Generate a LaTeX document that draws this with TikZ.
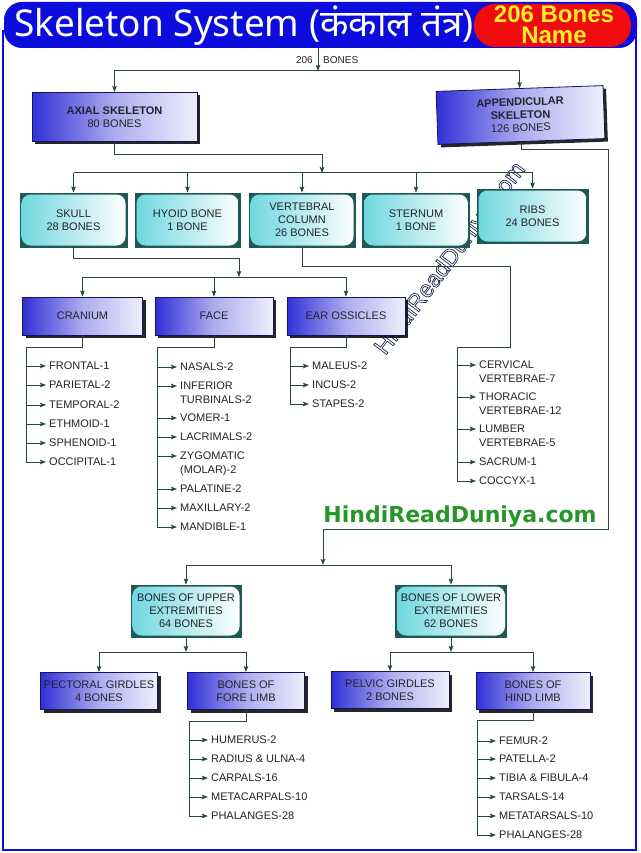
\documentclass[tikz,border=0pt]{standalone}
\usepackage{fontspec}
\setmainfont{Liberation Sans}
\newfontfamily\titlefont[Script=Devanagari]{Noto Sans}
\newfontfamily\greenfont{DejaVu Sans}
\usetikzlibrary{arrows.meta,shadows}
\definecolor{hdrblue}{RGB}{12,12,220}
\definecolor{hdrred}{RGB}{240,12,12}
\definecolor{hdryellow}{RGB}{255,236,40}
\definecolor{lnc}{RGB}{40,72,60}
\definecolor{gblue}{RGB}{48,48,215}
\definecolor{gborder}{RGB}{20,20,90}
\definecolor{cyanc}{RGB}{110,215,222}
\definecolor{tealc}{RGB}{32,88,88}
\definecolor{txt}{RGB}{35,35,45}
\definecolor{wgreen}{RGB}{38,150,40}
\definecolor{wmark}{RGB}{30,40,80}
\tikzset{
  conn/.style={draw=lnc, line width=1pt},
  arr/.style={conn, -{Stealth[length=6pt,width=4.5pt,inset=1pt]}},
  gbox/.style={draw=gborder, line width=0.8pt, left color=gblue, right color=white!92!gblue,
    middle color=gblue!40!white, text=txt, align=center, inner sep=0pt,
    font=\fontsize{11}{13}\selectfont,
    drop shadow={shadow xshift=3pt, shadow yshift=-3pt, fill=black, opacity=0.85}},
  cbox/.style={draw=tealc, line width=0.8pt, fill=tealc, text=txt, align=center, inner sep=0pt,
    font=\fontsize{11}{13}\selectfont,
    path picture={\shade[left color=cyanc, right color=white, rounded corners=9pt]
      ([xshift=1.5pt,yshift=1.5pt]path picture bounding box.south west) rectangle
      ([xshift=-1.5pt,yshift=-1.5pt]path picture bounding box.north east);}},
  item/.style={anchor=west, inner xsep=3pt, inner ysep=0pt, text=txt, align=left,
    font=\fontsize{11}{14}\selectfont},
  item2/.style={item, anchor=north west}
}
\begin{document}
\begin{tikzpicture}[x=1pt,y=-1pt]
\useasboundingbox (0,0) rectangle (640,853);
\fill[white] (0,0) rectangle (640,853);
% frame and header
\draw[hdrblue, line width=2.6pt] (3,30) -- (3,850) -- (636,850) -- (636,30);
\fill[hdrblue, rounded corners=18pt] (4,2) rectangle (637,48);
\fill[hdrred, rounded corners=21pt] (474,4) rectangle (631,47);
\node[text=white, anchor=base west, inner sep=0pt, font=\titlefont\fontsize{37}{40}\selectfont] (title) at (14,37) {Skeleton System (कंकाल तंत्र)};
\node[text=hdryellow, align=center, inner sep=0pt, font=\bfseries\fontsize{24}{21}\selectfont] (badge) at (554,25) {206 Bones\\Name};

% watermarks
\node[text=wmark, rotate=53, inner sep=0pt, font=\fontsize{23.5}{26}\selectfont] (wm) at (451,259) {\special{pdf:literal direct 0.7 w 1 Tr}HindiReadDuniya.com\special{pdf:literal direct 0 Tr}};
\node[text=wgreen, inner sep=0pt, font=\greenfont\bfseries\fontsize{22}{26}\selectfont] (site) at (460,517) {HindiReadDuniya.com};

% top
\node[inner sep=0pt, text=txt, anchor=east, font=\fontsize{10}{12}\selectfont] (n206) at (313,60) {206};
\node[inner sep=0pt, text=txt, anchor=west, font=\fontsize{10}{12}\selectfont] (nbones) at (323,60) {BONES};
\coordinate (t0) at (318,48);
\coordinate (j0) at (318,71);

\node[gbox, minimum width=165pt, minimum height=49pt] (axial) at (114.5,117) {{\bfseries AXIAL SKELETON}\\80 BONES};
\node[gbox, minimum width=167pt, minimum height=53pt, rotate=2] (app) at (520.5,115) {{\bfseries APPENDICULAR}\\{\bfseries SKELETON}\\126 BONES};

\draw[arr] (t0) -- (j0);
\draw[arr] (j0) -| (axial.north);
\draw[arr] (j0) -| (app.north);

% row 2
\node[cbox, minimum width=107pt, minimum height=54pt] (skull) at (73.5,220) {SKULL\\28 BONES};
\node[cbox, minimum width=105pt, minimum height=54pt] (hyoid) at (187.5,220) {HYOID BONE\\1 BONE};
\node[cbox, minimum width=106pt, minimum height=54pt] (vc) at (302,220) {VERTEBRAL\\COLUMN\\26 BONES};
\node[cbox, minimum width=107pt, minimum height=54pt] (sternum) at (416,220) {STERNUM\\1 BONE};
\node[cbox, minimum width=111pt, minimum height=54pt] (ribs) at (532.5,216) {RIBS\\24 BONES};

\coordinate (a1) at (322,155);
\coordinate (j1) at (322,173);
\draw[arr] (axial.south) |- (a1) -- (j1);
\draw[conn] (skull.north |- j1) -- (ribs.north |- j1);
\foreach \n in {skull,hyoid,vc,sternum,ribs}{\draw[arr] (\n.north |- j1) -- (\n.north);}

% row 3
\node[gbox, minimum width=120pt, minimum height=38pt] (cranium) at (82.5,316) {CRANIUM};
\node[gbox, minimum width=118pt, minimum height=38pt] (face) at (214,316) {FACE};
\node[gbox, minimum width=118pt, minimum height=38pt] (ear) at (346,316) {EAR OSSICLES};

\coordinate (a2) at (239,258);
\coordinate (j2) at (239,277);
\draw[arr] (skull.south) |- (a2) -- (j2);
\draw[conn] (cranium.north |- j2) -- (ear.north |- j2);
\foreach \n in {cranium,face,ear}{\draw[arr] (\n.north |- j2) -- (\n.north);}

% cranium list
\coordinate (crt) at (26,347);
\foreach \n/\y/\t in {fr/366/FRONTAL-1,pa/385/PARIETAL-2,te/405/TEMPORAL-2,et/424/ETHMOID-1,sp/443/SPHENOID-1,oc/462/OCCIPITAL-1}{
  \node[item] (\n) at (46,\y) {\t};
  \coordinate (\n b) at (26,\y);
  \draw[arr] (\n b) -- (\n.west);
}
\draw[conn] (cranium.south) |- (crt) -- (ocb);

% face list
\coordinate (fct) at (157,347);
\foreach \n/\y/\t in {na/367/NASALS-2,vo/418/VOMER-1,la/437/LACRIMALS-2,pl/489/PALATINE-2,mx/508/MAXILLARY-2,md/527/MANDIBLE-1}{
  \node[item] (\n) at (177,\y) {\t};
  \coordinate (\n b) at (157,\y);
  \draw[arr] (\n b) -- (\n.west);
}
\node[item2] (inf) at (177,382) {INFERIOR\\TURBINALS-2};
\coordinate (infb) at (157,386);
\draw[arr] (infb) -- ([yshift=-4pt]inf.north west);
\node[item2] (zy) at (177,452) {ZYGOMATIC\\(MOLAR)-2};
\coordinate (zyb) at (157,456);
\draw[arr] (zyb) -- ([yshift=-4pt]zy.north west);
\draw[conn] (face.south) |- (fct) -- (mdb);

% ear list
\coordinate (ert) at (290,347);
\foreach \n/\y/\t in {ma/366/MALEUS-2,in/385/INCUS-2,st/404/STAPES-2}{
  \node[item] (\n) at (309,\y) {\t};
  \coordinate (\n b) at (290,\y);
  \draw[arr] (\n b) -- (\n.west);
}
\draw[conn] (ear.south) |- (ert) -- (stb);

% vertebral list
\coordinate (v1) at (510,266);
\coordinate (vt) at (457,347);
\foreach \n/\y/\t in {ce/365/{CERVICAL\\VERTEBRAE-7},th/397/{THORACIC\\VERTEBRAE-12},lu/429/{LUMBER\\VERTEBRAE-5}}{
  \node[item2] (\n) at (476,\y-4) {\t};
  \coordinate (\n b) at (457,\y);
  \draw[arr] (\n b) -- ([yshift=-4pt]\n.north west);
}
\foreach \n/\y/\t in {sa/462/SACRUM-1,co/481/COCCYX-1}{
  \node[item] (\n) at (476,\y) {\t};
  \coordinate (\n b) at (457,\y);
  \draw[arr] (\n b) -- (\n.west);
}
\draw[conn] (vc.south) |- (v1) |- (vt) -- (cob);

% appendicular
\node[cbox, minimum width=110pt, minimum height=52pt] (upper) at (186,611) {BONES OF UPPER\\EXTREMITIES\\64 BONES};
\node[cbox, minimum width=111pt, minimum height=52pt] (lower) at (451,611) {BONES OF LOWER\\EXTREMITIES\\62 BONES};
\coordinate (p1) at (608,150);
\coordinate (p2) at (608,529);
\coordinate (j3) at (323,565);
\draw[arr] (app.south) |- (p1) -- (p2) -| (j3);
\draw[conn] (upper.north |- j3) -- (lower.north |- j3);
\foreach \n in {upper,lower}{\draw[arr] (\n.north |- j3) -- (\n.north);}

% bottom boxes
\node[gbox, minimum width=117pt, minimum height=37pt] (pect) at (99,691) {PECTORAL GIRDLES\\4 BONES};
\node[gbox, minimum width=117pt, minimum height=37pt] (fore) at (246,691) {BONES OF\\FORE LIMB};
\node[gbox, minimum width=118pt, minimum height=37pt] (pelvic) at (390,690) {PELVIC GIRDLES\\2 BONES};
\node[gbox, minimum width=114pt, minimum height=37pt] (hind) at (533,691) {BONES OF\\HIND LIMB};

\coordinate (j4) at (186,652);
\coordinate (j5) at (451,652);
\draw[arr] (upper.south) -- (j4);
\draw[arr] (lower.south) -- (j5);
\draw[conn] (pect.north |- j4) -- (fore.north |- j4);
\draw[conn] (pelvic.north |- j5) -- (hind.north |- j5);
\foreach \n in {pect,fore}{\draw[arr] (\n.north |- j4) -- (\n.north);}
\foreach \n in {pelvic,hind}{\draw[arr] (\n.north |- j5) -- (\n.north);}

% fore limb list
\coordinate (flt) at (189,721);
\foreach \n/\y/\t in {hu/740/HUMERUS-2,ra/759/RADIUS \& ULNA-4,ca/778/CARPALS-16,mc/797/METACARPALS-10,ph/816/PHALANGES-28}{
  \node[item] (\n) at (208,\y) {\t};
  \coordinate (\n b) at (189,\y);
  \draw[arr] (\n b) -- (\n.west);
}
\draw[conn] (fore.south) |- (flt) -- (phb);

% hind limb list
\coordinate (hlt) at (477,720);
\foreach \n/\y/\t in {fe/741/FEMUR-2,pt/759/PATELLA-2,ti/778/TIBIA \& FIBULA-4,ta/797/TARSALS-14,mt/816/METATARSALS-10,hp/835/PHALANGES-28}{
  \node[item] (\n) at (496,\y) {\t};
  \coordinate (\n b) at (477,\y);
  \draw[arr] (\n b) -- (\n.west);
}
\draw[conn] (hind.south) |- (hlt) -- (hpb);
\end{tikzpicture}
\end{document}
